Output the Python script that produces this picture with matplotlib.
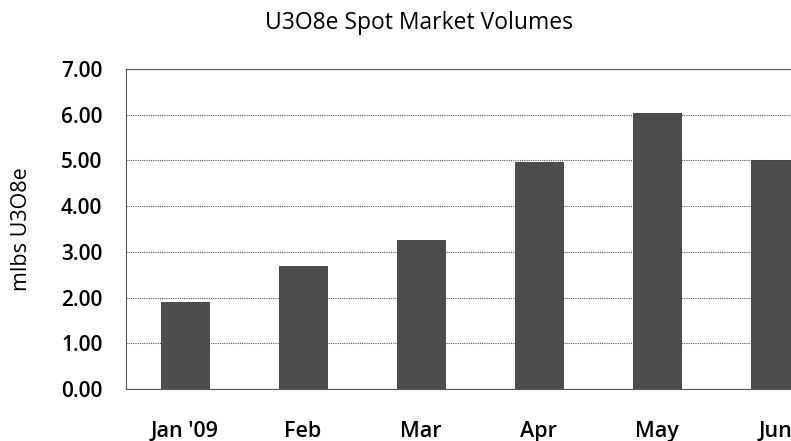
import matplotlib.pyplot as plt

plt.rcParams['font.family'] = ['Open Sans', 'DejaVu Sans']

months = ["Jan '09", "Feb", "Mar", "Apr", "May", "Jun"]
volumes = [1.90, 2.69, 3.27, 4.96, 6.03, 5.01]
y_ticks = [0, 1, 2, 3, 4, 5, 6, 7]

fig = plt.figure(figsize=(7.91, 4.41), dpi=100)
# axes runs past the right edge, the Jun bar is cut off like in the original
ax = fig.add_axes([0.1593, 0.1179, 0.895, 0.7256])

x = range(len(months))
ax.bar(x, volumes, width=0.4, color='#4d4d4d', edgecolor='#3a3a3a', linewidth=0.6, zorder=3)

ax.set_xlim(-0.5, len(months) - 0.5)
ax.set_ylim(0, 7)
ax.set_yticks(y_ticks)
ax.set_yticklabels([f"{v:.2f}" for v in y_ticks], fontsize=15, fontweight='semibold')
ax.set_xticks(list(x))
ax.set_xticklabels(months, fontsize=15.5, fontweight='semibold')
ax.tick_params(length=0, pad=23, axis='x')
ax.tick_params(length=0, pad=17, axis='y')

# dotted grid and frame
ax.yaxis.grid(True, linestyle=(0, (1, 1)), color='#555555', linewidth=0.8, zorder=0)
for side in ['left', 'top', 'bottom']:
    ax.spines[side].set_linestyle((0, (1, 1)))
    ax.spines[side].set_color('#555555')
    ax.spines[side].set_linewidth(0.8)
ax.spines['right'].set_visible(False)

ax.set_ylabel("mlbs U3O8e", fontsize=15.5, va='center')
ax.yaxis.set_label_coords(-0.147, 0.5)
fig.text(0.530, 0.948, "U3O8e Spot Market Volumes", ha='center', va='center', fontsize=16.5)

fig.savefig("out.png", dpi=100)
